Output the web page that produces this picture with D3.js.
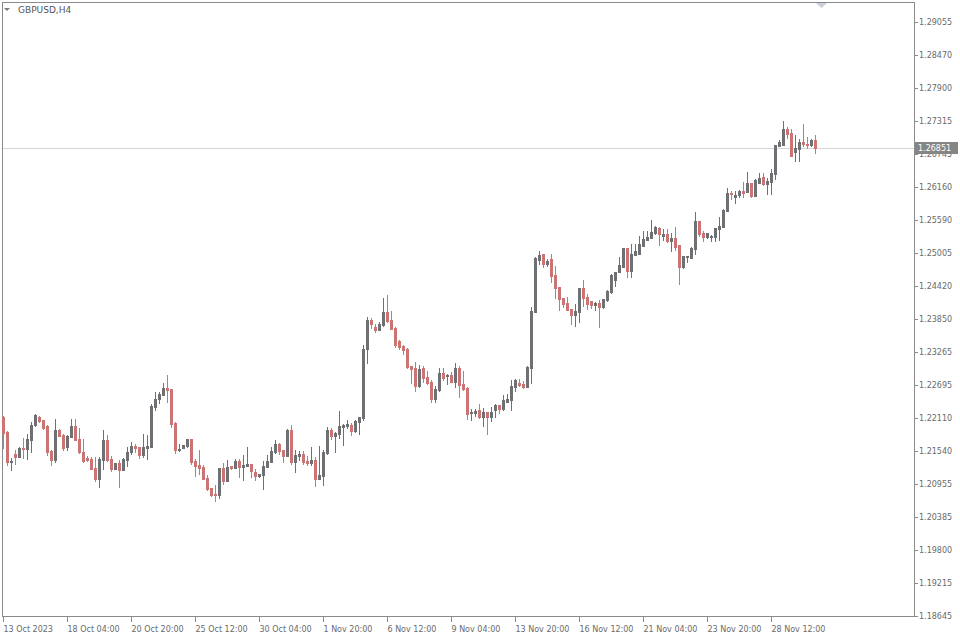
<!DOCTYPE html>
<html><head><meta charset="utf-8">
<script src="https://cdn.jsdelivr.net/npm/d3@7"></script>
<style>body{margin:0;background:#fff}svg{display:block}</style>
</head><body><svg id="c" width="960" height="640"></svg>
<script>
const symbolLabel = "GBPUSD,H4";
const lastPrice = 1.26851;
const lastPriceLabel = "1.26851";

const open = [
1.2213,1.2187,1.2134,1.2148,1.2143,1.2159,1.2157,1.2173,1.2199,1.2213,
1.2208,1.2197,1.2154,1.2138,1.2190,1.2182,1.2161,1.2178,1.2197,1.2175,
1.2152,1.2141,1.2140,1.2124,1.2105,1.2138,1.2173,1.2140,1.2122,1.2133,
1.2120,1.2138,1.2152,1.2162,1.2161,1.2147,1.2159,1.2161,1.2231,1.2245,
1.2252,1.2264,1.2262,1.2203,1.2155,1.2159,1.2162,1.2175,1.2136,1.2129,
1.2126,1.2106,1.2089,1.2078,1.2077,1.2124,1.2101,1.2127,1.2124,1.2136,
1.2126,1.2127,1.2131,1.2117,1.2110,1.2112,1.2126,1.2134,1.2152,1.2166,
1.2155,1.2145,1.2190,1.2134,1.2145,1.2148,1.2136,1.2133,1.2138,1.2105,
1.2110,1.2150,1.2190,1.2180,1.2183,1.2196,1.2197,1.2199,1.2189,1.2205,
1.2212,1.2332,1.2383,1.2371,1.2366,1.2375,1.2397,1.2383,1.2369,1.2346,
1.2338,1.2332,1.2303,1.2299,1.2268,1.2299,1.2283,1.2275,1.2245,1.2261,
1.2290,1.2285,1.2287,1.2275,1.2299,1.2271,1.2264,1.2220,1.2220,1.2226,
1.2213,1.2222,1.2213,1.2226,1.2234,1.2227,1.2240,1.2243,1.2266,1.2273,
1.2271,1.2266,1.2299,1.2397,1.2488,1.2499,1.2481,1.2490,1.2462,1.2441,
1.2422,1.2413,1.2403,1.2392,1.2397,1.2439,1.2424,1.2417,1.2410,1.2413,
1.2406,1.2418,1.2432,1.2453,1.2467,1.2476,1.2509,1.2469,1.2497,1.2499,
1.2513,1.2523,1.2527,1.2536,1.2544,1.2530,1.2534,1.2522,1.2527,1.2515,
1.2476,1.2494,1.2492,1.2508,1.2557,1.2536,1.2529,1.2529,1.2529,1.2543,
1.2546,1.2574,1.2606,1.2599,1.2602,1.2609,1.2608,1.2623,1.2601,1.2623,
1.2634,1.2622,1.2625,1.2639,1.2688,1.2690,1.2718,1.2711,1.2678,1.2683,
1.2695,1.2692,1.2690,1.2699];

const high = [
1.2215,1.2189,1.2141,1.2155,1.2161,1.2176,1.2183,1.2205,1.2219,1.2215,
1.2208,1.2199,1.2155,1.2210,1.2192,1.2183,1.2182,1.2210,1.2210,1.2194,
1.2175,1.2145,1.2143,1.2143,1.2143,1.2190,1.2182,1.2145,1.2133,1.2138,
1.2141,1.2161,1.2169,1.2166,1.2161,1.2183,1.2182,1.2236,1.2257,1.2257,
1.2273,1.2287,1.2262,1.2205,1.2166,1.2164,1.2175,1.2175,1.2140,1.2155,
1.2129,1.2112,1.2089,1.2094,1.2124,1.2133,1.2138,1.2127,1.2140,1.2140,
1.2147,1.2161,1.2131,1.2122,1.2113,1.2136,1.2147,1.2161,1.2173,1.2168,
1.2155,1.2192,1.2199,1.2155,1.2154,1.2154,1.2145,1.2161,1.2143,1.2162,
1.2155,1.2196,1.2194,1.2187,1.2224,1.2201,1.2208,1.2203,1.2208,1.2213,
1.2339,1.2389,1.2387,1.2376,1.2380,1.2422,1.2427,1.2399,1.2371,1.2348,
1.2339,1.2334,1.2303,1.2310,1.2304,1.2303,1.2294,1.2278,1.2268,1.2299,
1.2299,1.2289,1.2292,1.2308,1.2303,1.2294,1.2266,1.2227,1.2227,1.2236,
1.2229,1.2222,1.2231,1.2236,1.2234,1.2252,1.2254,1.2278,1.2280,1.2280,
1.2276,1.2303,1.2406,1.2494,1.2504,1.2499,1.2490,1.2499,1.2478,1.2441,
1.2422,1.2424,1.2403,1.2411,1.2439,1.2453,1.2429,1.2417,1.2415,1.2418,
1.2420,1.2436,1.2464,1.2467,1.2494,1.2509,1.2509,1.2516,1.2516,1.2530,
1.2539,1.2539,1.2559,1.2548,1.2546,1.2543,1.2543,1.2536,1.2546,1.2515,
1.2495,1.2495,1.2511,1.2573,1.2557,1.2539,1.2536,1.2532,1.2544,1.2564,
1.2578,1.2615,1.2609,1.2609,1.2611,1.2625,1.2643,1.2623,1.2630,1.2641,
1.2641,1.2632,1.2648,1.2690,1.2699,1.2732,1.2721,1.2718,1.2707,1.2700,
1.2727,1.2704,1.2700,1.2707];

const low = [
1.2159,1.2129,1.2120,1.2131,1.2143,1.2141,1.2140,1.2152,1.2197,1.2205,
1.2192,1.2147,1.2129,1.2134,1.2180,1.2155,1.2155,1.2178,1.2173,1.2150,
1.2134,1.2136,1.2122,1.2101,1.2091,1.2122,1.2136,1.2119,1.2122,1.2091,
1.2120,1.2127,1.2148,1.2152,1.2141,1.2143,1.2140,1.2161,1.2226,1.2238,
1.2252,1.2240,1.2196,1.2150,1.2154,1.2159,1.2161,1.2131,1.2110,1.2113,
1.2105,1.2085,1.2075,1.2066,1.2071,1.2096,1.2101,1.2122,1.2124,1.2108,
1.2103,1.2127,1.2108,1.2103,1.2108,1.2087,1.2126,1.2134,1.2150,1.2148,
1.2134,1.2145,1.2131,1.2117,1.2138,1.2131,1.2129,1.2129,1.2092,1.2105,
1.2094,1.2148,1.2175,1.2152,1.2176,1.2164,1.2194,1.2182,1.2187,1.2183,
1.2208,1.2308,1.2369,1.2362,1.2366,1.2373,1.2380,1.2367,1.2336,1.2332,
1.2324,1.2299,1.2273,1.2259,1.2266,1.2275,1.2271,1.2240,1.2240,1.2259,
1.2278,1.2271,1.2275,1.2266,1.2248,1.2261,1.2210,1.2208,1.2215,1.2212,
1.2197,1.2183,1.2206,1.2213,1.2220,1.2226,1.2240,1.2226,1.2259,1.2268,
1.2264,1.2266,1.2273,1.2397,1.2481,1.2476,1.2478,1.2450,1.2422,1.2401,
1.2406,1.2401,1.2376,1.2373,1.2380,1.2408,1.2403,1.2404,1.2401,1.2371,
1.2404,1.2417,1.2431,1.2443,1.2467,1.2476,1.2459,1.2459,1.2497,1.2499,
1.2513,1.2523,1.2527,1.2534,1.2515,1.2523,1.2520,1.2504,1.2506,1.2446,
1.2474,1.2485,1.2492,1.2499,1.2530,1.2522,1.2527,1.2522,1.2522,1.2523,
1.2546,1.2574,1.2595,1.2588,1.2599,1.2599,1.2608,1.2599,1.2601,1.2623,
1.2620,1.2604,1.2604,1.2630,1.2688,1.2690,1.2702,1.2671,1.2662,1.2662,
1.2688,1.2685,1.2688,1.2676];

const close = [
1.2185,1.2134,1.2136,1.2143,1.2159,1.2157,1.2175,1.2199,1.2217,1.2206,
1.2194,1.2152,1.2138,1.2190,1.2180,1.2159,1.2180,1.2197,1.2173,1.2152,
1.2136,1.2138,1.2122,1.2105,1.2140,1.2173,1.2138,1.2122,1.2133,1.2120,
1.2140,1.2152,1.2162,1.2159,1.2147,1.2161,1.2162,1.2233,1.2245,1.2254,
1.2264,1.2261,1.2201,1.2155,1.2157,1.2164,1.2175,1.2134,1.2127,1.2124,
1.2105,1.2087,1.2077,1.2077,1.2124,1.2101,1.2126,1.2124,1.2136,1.2126,
1.2129,1.2131,1.2119,1.2110,1.2113,1.2127,1.2136,1.2154,1.2166,1.2154,
1.2145,1.2190,1.2134,1.2147,1.2148,1.2134,1.2133,1.2138,1.2105,1.2112,
1.2152,1.2190,1.2180,1.2185,1.2197,1.2199,1.2201,1.2189,1.2206,1.2213,
1.2332,1.2383,1.2376,1.2366,1.2376,1.2397,1.2382,1.2367,1.2339,1.2336,
1.2331,1.2301,1.2297,1.2268,1.2297,1.2282,1.2273,1.2245,1.2262,1.2290,
1.2282,1.2287,1.2275,1.2299,1.2269,1.2262,1.2219,1.2222,1.2224,1.2213,
1.2222,1.2213,1.2222,1.2234,1.2227,1.2243,1.2245,1.2268,1.2278,1.2269,
1.2266,1.2301,1.2399,1.2492,1.2497,1.2481,1.2487,1.2460,1.2439,1.2420,
1.2411,1.2401,1.2392,1.2399,1.2439,1.2422,1.2411,1.2410,1.2413,1.2406,
1.2420,1.2434,1.2462,1.2467,1.2480,1.2509,1.2469,1.2499,1.2504,1.2516,
1.2525,1.2529,1.2537,1.2546,1.2534,1.2534,1.2522,1.2527,1.2511,1.2476,
1.2495,1.2495,1.2509,1.2557,1.2534,1.2529,1.2536,1.2530,1.2544,1.2548,
1.2576,1.2606,1.2604,1.2602,1.2609,1.2606,1.2623,1.2601,1.2629,1.2632,
1.2622,1.2627,1.2641,1.2690,1.2695,1.2718,1.2709,1.2671,1.2685,1.2695,
1.2692,1.2690,1.2699,1.26851];

const xTickIndex = [0,16,32,48,64,80,96,112,128,144,160,176,192];
const xTickLabels = ["13 Oct 2023","18 Oct 04:00","20 Oct 20:00","25 Oct 12:00","30 Oct 04:00",
  "1 Nov 20:00","6 Nov 12:00","9 Nov 04:00","13 Nov 20:00","16 Nov 12:00",
  "21 Nov 04:00","23 Nov 20:00","28 Nov 12:00"];
const yTickLabels = ["1.29055","1.28470","1.27900","1.27315","1.26745","1.26160","1.25590",
  "1.25005","1.24420","1.23850","1.23265","1.22695","1.22110","1.21540","1.20955",
  "1.20385","1.19800","1.19215","1.18645"];

const svg = d3.select("#c");
const FONT = "DejaVu Sans, Verdana, sans-serif";
const axisColor = "#8a8a8a";
const textColor = "#6a6a6a";
const bullColor = "#6e7074";
const bearColor = "#cc7474";

const plotL = 2, plotT = 2, plotR = 914, plotB = 616;
const n = open.length;
const x = d3.scaleLinear().domain([0, n - 1]).range([3.5, 3.5 + 4 * (n - 1)]);
const y = d3.scaleLinear().domain([1.18645, 1.29055]).range([plotB, 22]);

const g = svg.append("g").attr("shape-rendering", "crispEdges");

// frame
g.append("line").attr("x1", plotL + 0.5).attr("x2", plotL + 0.5).attr("y1", plotT).attr("y2", plotB + 1).attr("stroke", axisColor);
g.append("line").attr("x1", plotL).attr("x2", plotR + 1).attr("y1", plotT + 0.5).attr("y2", plotT + 0.5).attr("stroke", axisColor);
g.append("line").attr("x1", plotR + 0.5).attr("x2", plotR + 0.5).attr("y1", plotT).attr("y2", plotB + 1).attr("stroke", axisColor);
g.append("line").attr("x1", plotL).attr("x2", plotR + 1).attr("y1", plotB + 0.5).attr("y2", plotB + 0.5).attr("stroke", axisColor);

// price line
const py = Math.round(y(lastPrice)) + 0.5;
g.append("line").attr("x1", plotL + 1).attr("x2", plotR).attr("y1", py).attr("y2", py).attr("stroke", "#d6d6d6");

// candles
const idx = d3.range(n);
const candles = g.append("g");
idx.forEach(i => {
  const bull = close[i] >= open[i];
  const col = bull ? bullColor : bearColor;
  const xc = x(i);
  const yh = Math.round(y(high[i])), yl = Math.round(y(low[i]));
  candles.append("rect").attr("x", xc - 0.5).attr("width", 1).attr("y", yh).attr("height", yl - yh + 1).attr("fill", col);
  const yt = Math.round(y(Math.max(open[i], close[i])));
  const yb = Math.round(y(Math.min(open[i], close[i])));
  candles.append("rect").attr("x", xc - 1.5).attr("width", 3).attr("y", yt).attr("height", Math.max(1, yb - yt + 1)).attr("fill", col);
});

// y axis ticks and labels
const yAxis = svg.append("g");
yTickLabels.forEach(lbl => {
  const ty = Math.round(y(+lbl)) + 0.5;
  yAxis.append("line").attr("shape-rendering", "crispEdges").attr("x1", plotR + 1).attr("x2", plotR + 4).attr("y1", ty).attr("y2", ty).attr("stroke", axisColor);
  yAxis.append("text").attr("x", 919).attr("y", ty).attr("dy", "0.35em")
    .attr("font-family", FONT).attr("font-size", 8).attr("fill", textColor).text(lbl);
});

// last price box
const pb = svg.append("g");
pb.append("rect").attr("shape-rendering", "crispEdges").attr("x", plotR + 1).attr("y", py - 6.5).attr("width", 43).attr("height", 12).attr("fill", "#858585");
pb.append("text").attr("x", 918).attr("y", py).attr("dy", "0.35em").attr("font-family", FONT).attr("font-size", 8).attr("fill", "#ffffff").text(lastPriceLabel);

// x axis ticks and labels
const xAxis = svg.append("g");
xTickIndex.forEach((ti, k) => {
  const tx = Math.floor(x(ti)) + 0.5;
  xAxis.append("line").attr("shape-rendering", "crispEdges").attr("x1", tx).attr("x2", tx).attr("y1", plotB).attr("y2", plotB + 6).attr("stroke", axisColor);
  xAxis.append("text").attr("x", tx).attr("y", 632).attr("font-family", FONT).attr("font-size", 8)
    .attr("fill", textColor).text(xTickLabels[k]);
});

// top-left symbol label
svg.append("path").attr("d", "M4,8 L10,8 L7,11 Z").attr("fill", "#7a7a7a");
svg.append("text").attr("x", 18).attr("y", 13).attr("font-family", FONT).attr("font-size", 9)
  .attr("fill", "#555").text(symbolLabel);

// chart shift marker
svg.append("path").attr("d", "M816,3 L827,3 L821.5,8 Z").attr("fill", "#c9ced8");
</script>
</body></html>
